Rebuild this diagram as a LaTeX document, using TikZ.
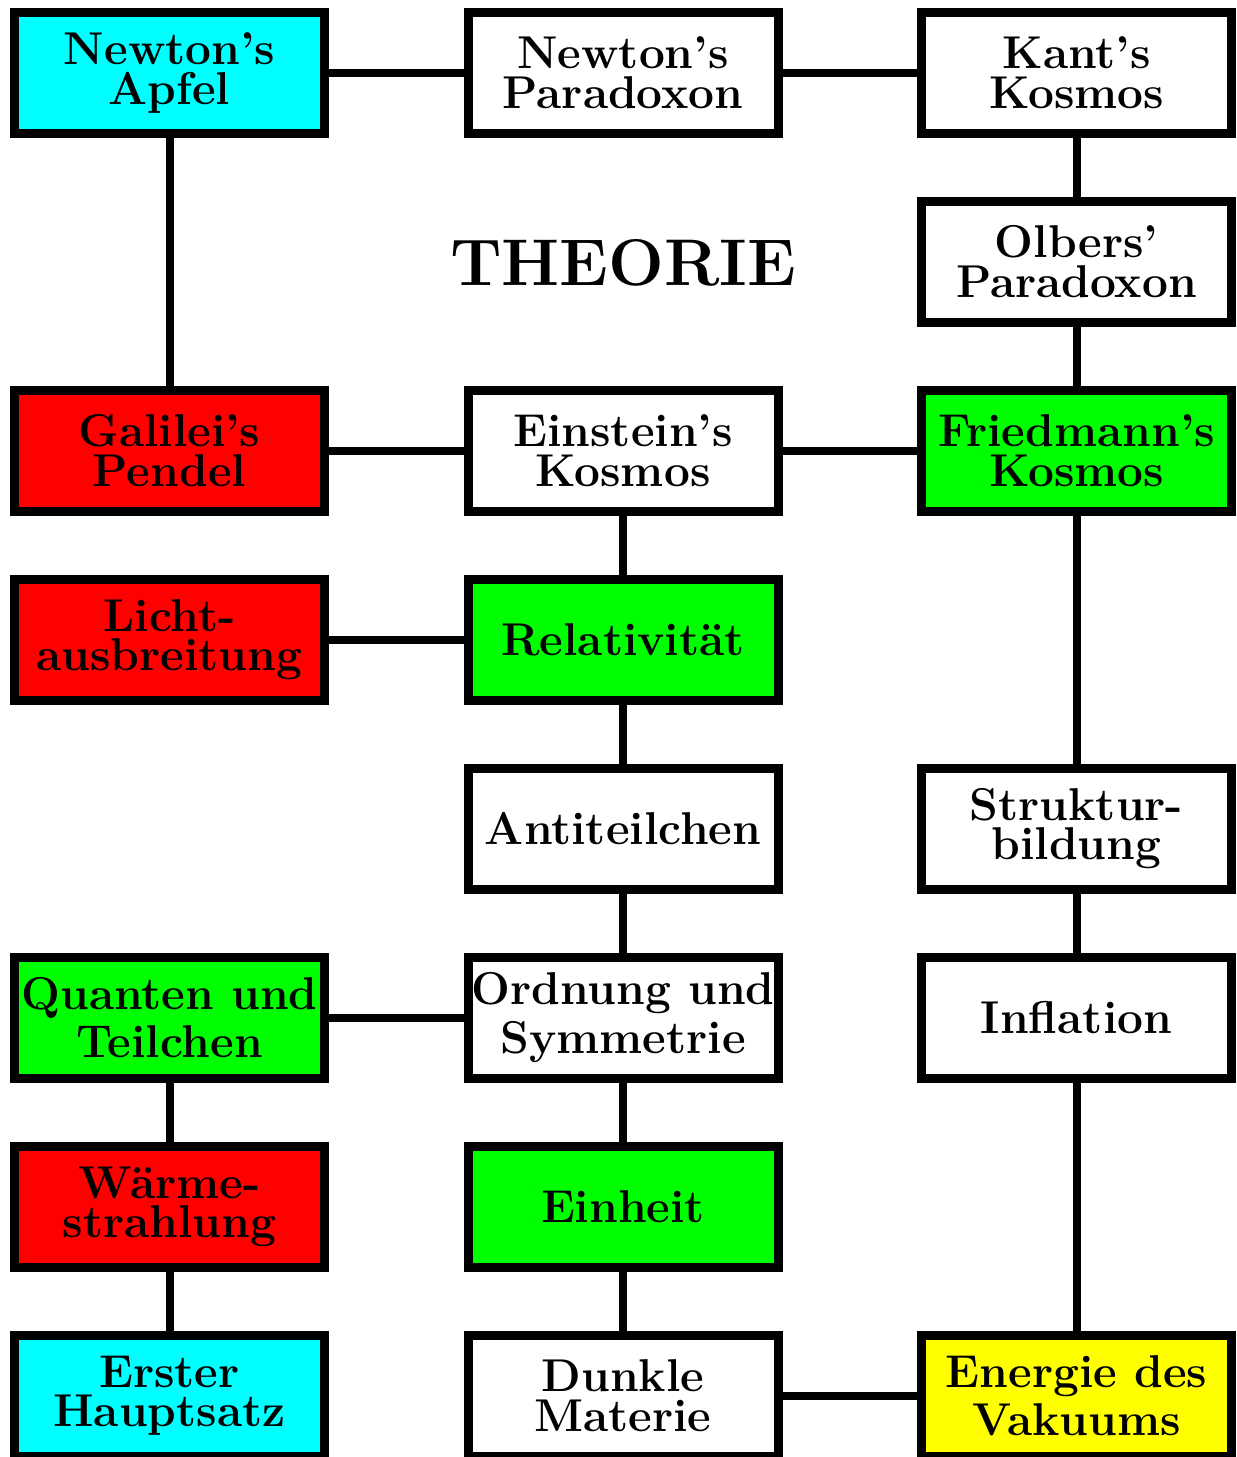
\documentclass[tikz,border=0pt]{standalone}
\usetikzlibrary{backgrounds}
\definecolor{cy}{RGB}{0,255,255}
\definecolor{rd}{RGB}{255,0,0}
\definecolor{gr}{RGB}{0,255,0}
\definecolor{ye}{RGB}{255,255,0}
\newcommand\myboxfont{\fontsize{23}{19.75}\selectfont\bfseries\lineskip=3.75pt\relax\lineskiplimit=0pt\relax}
\tikzset{
  box/.style={draw=black, line width=4.5pt, fill=white, minimum width=155pt, minimum height=60.25pt,
    inner sep=0pt, align=center, font=\myboxfont},
  link/.style={line width=4pt, draw=black}
}
\begin{document}
\begin{tikzpicture}[x=0.5pt,y=-0.5pt]
\useasboundingbox (0,0) rectangle (1237,1457);
% columns 169.5, 623, 1076.5 ; rows 72.75 + 189k
\node[box, fill=cy] (apfel) at (169.5,72.75) {Newton's\\Apfel};
\node[box] (npara) at (623,72.75) {Newton's\\Paradoxon};
\node[box] (kant) at (1076.5,72.75) {Kant's\\Kosmos};
\node[font=\fontsize{33}{33}\selectfont\bfseries] (theorie) at (623,263) {THEORIE};
\node[box] (olbers) at (1076.5,261.75) {Olbers'\\Paradoxon};
\node[box, fill=rd] (galilei) at (169.5,450.75) {Galilei's\\Pendel};
\node[box] (einstein) at (623,450.75) {Einstein's\\Kosmos};
\node[box, fill=gr] (friedmann) at (1076.5,450.75) {Friedmann's\\Kosmos};
\node[box, fill=rd] (licht) at (169.5,639.75) {Licht-\\ausbreitung};
\node[box, fill=gr] (rel) at (623,639.75) {Relativit\"at};
\node[box] (anti) at (623,828.75) {Antiteilchen};
\node[box] (struktur) at (1076.5,828.75) {Struktur-\\bildung};
\node[box, fill=gr] (quanten) at (169.5,1017.75) {Quanten und\\Teilchen};
\node[box] (ordnung) at (623,1017.75) {Ordnung und\\Symmetrie};
\node[box] (inflation) at (1076.5,1017.75) {Inflation};
\node[box, fill=rd] (waerme) at (169.5,1206.75) {W\"arme-\\strahlung};
\node[box, fill=gr] (einheit) at (623,1206.75) {Einheit};
\node[box, fill=cy] (erster) at (169.5,1395.75) {Erster\\Hauptsatz};
\node[box] (dunkle) at (623,1395.75) {Dunkle\\Materie};
\node[box, fill=ye] (energie) at (1076.5,1395.75) {Energie des\\Vakuums};
\begin{scope}[on background layer]
\draw[link] (apfel) -- (npara);
\draw[link] (npara) -- (kant);
\draw[link] (apfel) -- (galilei);
\draw[link] (kant) -- (olbers);
\draw[link] (olbers) -- (friedmann);
\draw[link] (galilei) -- (einstein);
\draw[link] (einstein) -- (friedmann);
\draw[link] (einstein) -- (rel);
\draw[link] (licht) -- (rel);
\draw[link] (rel) -- (anti);
\draw[link] (friedmann) -- (struktur);
\draw[link] (anti) -- (ordnung);
\draw[link] (struktur) -- (inflation);
\draw[link] (quanten) -- (ordnung);
\draw[link] (quanten) -- (waerme);
\draw[link] (waerme) -- (erster);
\draw[link] (ordnung) -- (einheit);
\draw[link] (einheit) -- (dunkle);
\draw[link] (inflation) -- (energie);
\draw[link] (dunkle) -- (energie);
\end{scope}
\end{tikzpicture}
\end{document}
